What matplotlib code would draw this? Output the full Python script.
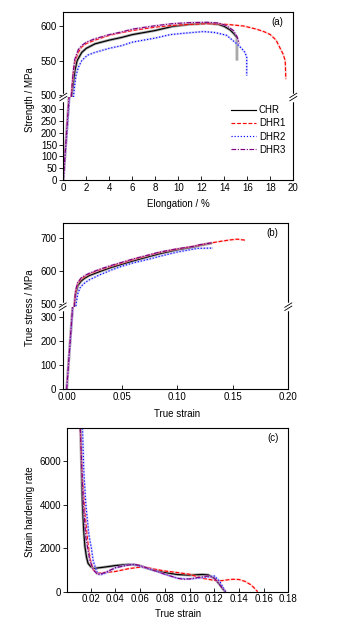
import matplotlib
matplotlib.use("Agg")
import matplotlib.pyplot as plt
from matplotlib.lines import Line2D

plt.rcParams['font.family'] = ['Liberation Sans', 'DejaVu Sans']
plt.rcParams['font.size'] = 7

# ---- data ----
names = ['CHR', 'DHR1', 'DHR2', 'DHR3']

# (a) engineering curves
chr_elong = [0, 0.5, 0.75, 0.9, 1.0, 1.2, 1.6, 2.0, 2.75, 4, 5.1, 6, 8, 9.5, 11, 12.5, 13.5, 14, 14.5, 14.8, 15.1, 15.1]
chr_strength = [0, 352, 500, 520, 535, 550, 562, 568, 574.5, 580, 584, 588, 594, 600, 603, 604.5, 603, 600, 595, 590, 584, 550]
dhr1_elong = [0, 0.5, 0.7, 0.85, 1.0, 1.3, 1.6, 2.0, 2.75, 4, 5.1, 6, 8, 9.5, 11, 12.5, 13.6, 14.5, 15.7, 16.8, 17.5, 18, 18.5, 18.8, 19.1, 19.3, 19.35]
dhr1_strength = [0, 352, 500, 530, 548, 562, 570, 575, 580, 587, 591, 594, 599, 601.5, 603, 604, 603.5, 602.5, 600.5, 596, 592, 588, 580, 570, 560, 550, 523]
dhr2_elong = [0, 0.55, 0.9, 1.0, 1.1, 1.3, 1.6, 2.1, 2.75, 4, 5.1, 6, 8, 9.3, 10.5, 12.2, 13.2, 14.2, 15.1, 15.5, 15.8, 15.95, 15.95]
dhr2_strength = [0, 352, 500, 515, 528, 540, 550, 558, 562, 568, 572, 577, 583, 588, 590, 592.5, 591, 587, 574.5, 568, 562, 555, 528]
dhr3_elong = [0, 0.5, 0.7, 0.85, 1.0, 1.3, 1.6, 2.0, 2.75, 4, 5.1, 6, 8, 9.5, 11, 12.5, 13.5, 14.2, 14.8, 15.1, 15.3]
dhr3_strength = [0, 352, 500, 532, 552, 566, 572, 577, 582, 588, 592, 596, 601, 604, 605.5, 606, 605, 601, 594, 585, 575]

# (b) true stress-strain
chr_tstrain = [0, 0.0054, 0.0072, 0.008, 0.01, 0.013, 0.016, 0.02, 0.03, 0.04, 0.05, 0.06, 0.075, 0.084, 0.10, 0.114, 0.12, 0.131]
chr_tstress = [0, 345, 500, 528, 555, 569, 577, 585, 598, 610, 620, 630, 644, 652, 664, 672, 677, 684]
dhr1_tstrain = [0, 0.0054, 0.007, 0.008, 0.01, 0.013, 0.016, 0.02, 0.03, 0.04, 0.05, 0.06, 0.075, 0.084, 0.10, 0.114, 0.12, 0.131, 0.14, 0.148, 0.154, 0.161]
dhr1_tstress = [0, 345, 500, 535, 562, 575, 582, 590, 603, 614, 624, 634, 648, 656, 666, 674, 678, 685, 690, 694, 696, 693]
dhr2_tstrain = [0, 0.0056, 0.0085, 0.01, 0.012, 0.015, 0.02, 0.03, 0.04, 0.05, 0.06, 0.075, 0.084, 0.10, 0.118, 0.132]
dhr2_tstress = [0, 345, 500, 530, 548, 560, 572, 588, 602, 614, 624, 636, 644, 657, 668, 669]
dhr3_tstrain = [0, 0.0054, 0.007, 0.008, 0.01, 0.013, 0.016, 0.02, 0.03, 0.04, 0.05, 0.06, 0.075, 0.084, 0.10, 0.114, 0.12, 0.131]
dhr3_tstress = [0, 345, 500, 540, 565, 578, 585, 592, 605, 616, 626, 636, 649, 657, 667, 674, 679, 685]

# (c) strain hardening rate
chr_hstrain = [0.0117, 0.0125, 0.0133, 0.0142, 0.0152, 0.0165, 0.0178, 0.02, 0.0225, 0.03, 0.04, 0.05, 0.055, 0.06, 0.07, 0.08, 0.09, 0.10, 0.11, 0.115, 0.12, 0.124, 0.127, 0.129]
chr_rate = [7500, 5600, 4000, 2900, 2100, 1600, 1300, 1150, 1070, 1120, 1200, 1250, 1240, 1180, 1000, 880, 790, 760, 790, 770, 620, 350, 120, 0]
dhr1_hstrain = [0.0115, 0.013, 0.0155, 0.0175, 0.0195, 0.022, 0.026, 0.03, 0.04, 0.05, 0.06, 0.065, 0.07, 0.08, 0.09, 0.10, 0.11, 0.12, 0.125, 0.13, 0.135, 0.14, 0.145, 0.15, 0.153, 0.155]
dhr1_rate = [7500, 5500, 3500, 2300, 1500, 1000, 850, 870, 930, 1050, 1130, 1120, 1050, 950, 880, 800, 620, 520, 500, 540, 570, 560, 470, 300, 130, 0]
dhr2_hstrain = [0.0133, 0.0143, 0.016, 0.0185, 0.0205, 0.022, 0.025, 0.028, 0.032, 0.04, 0.05, 0.055, 0.06, 0.07, 0.08, 0.09, 0.10, 0.11, 0.12, 0.124, 0.127, 0.129]
dhr2_rate = [7500, 5600, 4000, 2600, 2000, 1400, 900, 770, 850, 1100, 1230, 1250, 1170, 1000, 800, 620, 580, 640, 720, 500, 200, 0]
dhr3_hstrain = [0.0115, 0.0125, 0.014, 0.016, 0.019, 0.022, 0.0257, 0.03, 0.04, 0.05, 0.055, 0.06, 0.07, 0.08, 0.09, 0.095, 0.10, 0.11, 0.115, 0.12, 0.124, 0.127, 0.129]
dhr3_rate = [7500, 6000, 4000, 2500, 1500, 1000, 780, 850, 1100, 1220, 1260, 1200, 1000, 800, 620, 570, 590, 680, 720, 620, 350, 120, 0]

colors = ['black', '#ff0000', '#0000ff', '#800080']
halo = ['#a0a0a0', '#ffb0b0', '#b0b0ff', '#d0b0e0']
dashes = [(None, None), (3.2, 1.6), (1, 1.6), (4, 1.3, 1, 1.3)]

W, H = 337, 627
fig = plt.figure(figsize=(W / 100, H / 100), dpi=100)


def px_axes(left, top, right, bottom):
    return fig.add_axes([left / W, 1 - bottom / H, (right - left) / W, (bottom - top) / H])


def style(ax):
    for s in ax.spines.values():
        s.set_linewidth(0.8)
    ax.tick_params(axis='x', direction='in', length=3, width=0.6, pad=2)
    ax.tick_params(axis='y', direction='out', length=3, width=0.6, pad=1.5)


def draw_line(ax, x, y, i, label=None, skip_last=False):
    # faint thick trace behind each curve (light in the original too)
    ax.plot(x, y, color=halo[i], lw=1.6 if i else 2.0, alpha=0.5 if i else 0.9,
            solid_capstyle='butt')
    xs, ys = (x[:-1], y[:-1]) if skip_last else (x, y)
    ln, = ax.plot(xs, ys, color=colors[i], lw=0.85, label=label)
    if dashes[i][0] is not None:
        ln.set_dashes(dashes[i])
    return ln


def break_mark(x_px, y_px):
    x = x_px / W
    y = 1 - y_px / H
    fig.add_artist(Line2D([x, x], [y - 2.5 / H, y + 2.5 / H], color='white', lw=2.5,
                          transform=fig.transFigure))
    for off in (-1.6, 1.6):
        fig.add_artist(Line2D([x - 3.5 / W, x + 3.5 / W],
                              [y + (off - 2.2) / H, y + (off + 2.2) / H],
                              color='black', lw=0.6, transform=fig.transFigure))


def broken_pair(left, top, brk, bottom, right, up_lim, low_lim):
    up = px_axes(left, top, right, brk)
    low = px_axes(left, brk, right, bottom)
    up.spines['bottom'].set_visible(False)
    low.spines['top'].set_visible(False)
    up.set_ylim(*up_lim)
    low.set_ylim(*low_lim)
    style(up)
    style(low)
    up.tick_params(axis='x', bottom=False, labelbottom=False)
    break_mark(left, brk)
    break_mark(right, brk)
    return up, low


# ---- panel (a) ----
a_up, a_low = broken_pair(63.3, 12, 97, 180, 293.3, (497, 621), (0, 352))
a_data = [(chr_elong, chr_strength), (dhr1_elong, dhr1_strength),
          (dhr2_elong, dhr2_strength), (dhr3_elong, dhr3_strength)]
handles = []
for i, (x, y) in enumerate(a_data):
    draw_line(a_up, x, y, i, skip_last=(i == 0))
    h = draw_line(a_low, x, y, i, label=names[i], skip_last=(i == 0))
    handles.append(h)
for ax in (a_up, a_low):
    ax.set_xlim(0, 20)
    ax.set_xticks(range(0, 21, 2))
a_up.set_yticks([500, 550, 600])
a_low.set_yticks(range(0, 301, 50))
a_low.legend(handles=handles, loc='upper right', bbox_to_anchor=(0.965, 0.9),
             frameon=False, fontsize=7, handlelength=2.6, handletextpad=0.25,
             labelspacing=0.32, borderpad=0, borderaxespad=0)
a_up.text(0.955, 0.88, '(a)', transform=a_up.transAxes, ha='right', va='center')
fig.text(178 / W, 1 - 204 / H, 'Elongation / %', ha='center', va='center', fontsize=7)
fig.text(30 / W, 1 - 100 / H, 'Strength / MPa', rotation=90, ha='center', va='center', fontsize=7)

# ---- panel (b) ----
b_up, b_low = broken_pair(62.7, 222.7, 306.7, 389, 288.3, (491, 746), (0, 344))
b_data = [(chr_tstrain, chr_tstress), (dhr1_tstrain, dhr1_tstress),
          (dhr2_tstrain, dhr2_tstress), (dhr3_tstrain, dhr3_tstress)]
for i, (x, y) in enumerate(b_data):
    draw_line(b_up, x, y, i)
    draw_line(b_low, x, y, i)
for ax in (b_up, b_low):
    ax.set_xlim(-0.0036, 0.2)
    ax.set_xticks([0, 0.05, 0.10, 0.15, 0.20])
b_low.set_xticklabels(['0.00', '0.05', '0.10', '0.15', '0.20'])
b_up.set_yticks([500, 600, 700])
b_low.set_yticks([0, 100, 200, 300])
b_up.text(0.955, 0.88, '(b)', transform=b_up.transAxes, ha='right', va='center')
fig.text(177 / W, 1 - 414 / H, 'True strain', ha='center', va='center', fontsize=7)
fig.text(30 / W, 1 - 308 / H, 'True stress / MPa', rotation=90, ha='center', va='center', fontsize=7)

# ---- panel (c) ----
c_ax = px_axes(67.3, 428.3, 288.5, 591.7)
style(c_ax)
c_data = [(chr_hstrain, chr_rate), (dhr1_hstrain, dhr1_rate),
          (dhr2_hstrain, dhr2_rate), (dhr3_hstrain, dhr3_rate)]
for i, (x, y) in enumerate(c_data):
    draw_line(c_ax, x, y, i)
c_ax.set_xlim(0.001, 0.18)
c_ax.set_ylim(0, 7500)
c_ax.set_xticks([0.02, 0.04, 0.06, 0.08, 0.10, 0.12, 0.14, 0.16, 0.18])
c_ax.set_xticklabels(['0.02', '0.04', '0.06', '0.08', '0.10', '0.12', '0.14', '0.16', '0.18'])
c_ax.set_yticks([0, 2000, 4000, 6000])
c_ax.text(0.955, 0.94, '(c)', transform=c_ax.transAxes, ha='right', va='center')
fig.text(178 / W, 1 - 614 / H, 'True strain', ha='center', va='center', fontsize=7)
fig.text(30 / W, 1 - 512 / H, 'Strain hardening rate', rotation=90, ha='center', va='center', fontsize=7)

fig.savefig('out.png', dpi=100, facecolor='white')
